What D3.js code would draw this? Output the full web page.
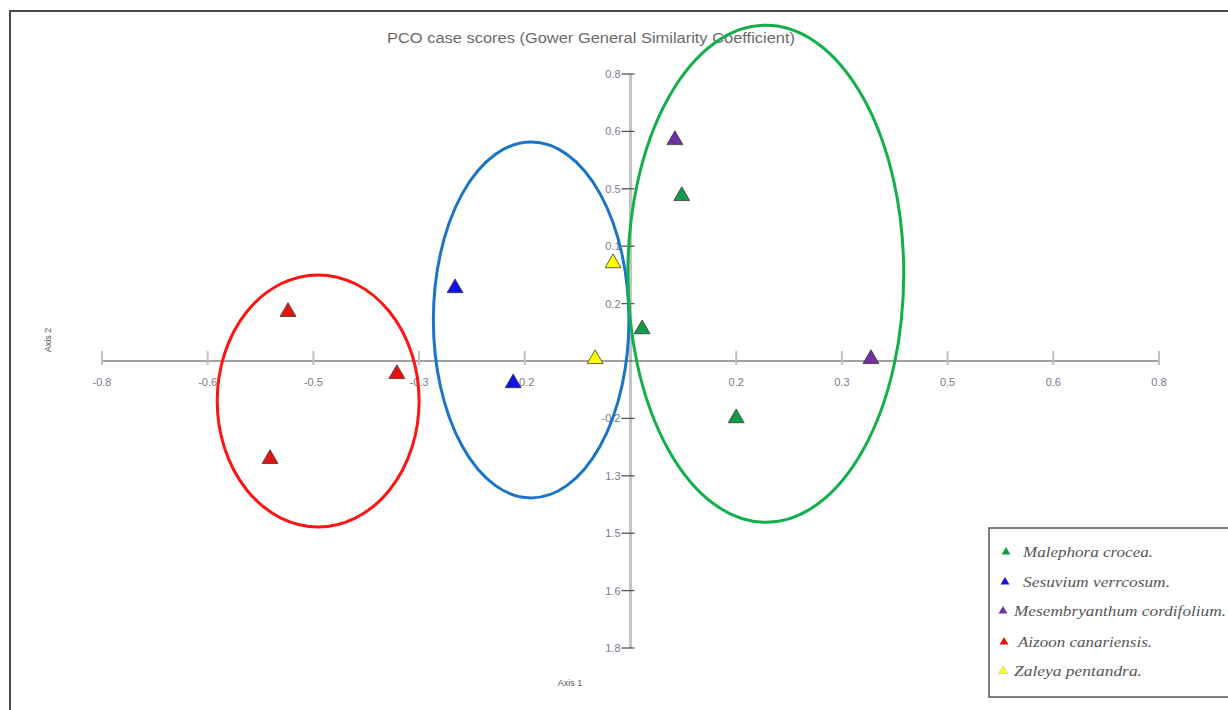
<!DOCTYPE html>
<html>
<head>
<meta charset="utf-8">
<script src="https://cdn.jsdelivr.net/npm/d3@7"></script>
<style>
  html, body { margin: 0; padding: 0; background: #fff; }
  svg { display: block; }
</style>
</head>
<body>
<div id="viz"></div>
<script>
const WIDTH = 1228;
const HEIGHT = 710;

// tick positions (plot units) and the labels printed beside them
const tickValues = [-1, -0.8, -0.6, -0.4, -0.2, 0, 0.2, 0.4, 0.6, 0.8, 1];
const xTickLabels = ["-0.8", "-0.6", "-0.5", "-0.3", "-0.2", "", "0.2", "0.3", "0.5", "0.6", "0.8"];
const yTickLabels = ["1.8", "1.6", "1.5", "1.3", "-0.2", "", "0.2", "0.1", "0.5", "0.6", "0.8"];

const species = [
  "Malephora crocea.",
  "Sesuvium verrcosum.",
  "Mesembryanthum cordifolium.",
  "Aizoon canariensis.",
  "Zaleya pentandra."
];
const speciesColors = ["#139a48", "#1010e8", "#7030a0", "#e81010", "#ffff00"];

// case scores
const scoreSpecies = [3, 3, 3, 1, 1, 4, 4, 0, 0, 0, 2, 2];
const scoreAxis1 = [-0.648, -0.442, -0.682, -0.332, -0.222, -0.033, -0.067, 0.097, 0.022, 0.200, 0.084, 0.455];
const scoreAxis2 = [0.171, -0.045, -0.341, 0.254, -0.077, 0.341, 0.007, 0.575, 0.111, -0.199, 0.770, 0.007];

// group ellipses
const groupColors = ["#ff1414", "#1a74c8", "#12b04a"];
const groupCx = [-0.591, -0.188, 0.256];
const groupCy = [-0.139, 0.143, 0.304];
const groupRx = [0.191, 0.185, 0.261];
const groupRy = [0.439, 0.620, 0.866];

const svg = d3.select("#viz").append("svg")
  .attr("width", WIDTH)
  .attr("height", HEIGHT);

// frame
svg.append("path")
  .attr("d", `M10,${HEIGHT} V11 H${WIDTH}`)
  .attr("fill", "none")
  .attr("stroke", "#4a4a4a")
  .attr("stroke-width", 2);

const x = d3.scaleLinear().domain([-1, 1]).range([102, 1159]);
const y = d3.scaleLinear().domain([-1, 1]).range([648, 74]);

svg.append("text")
  .attr("x", 591)
  .attr("y", 43)
  .attr("text-anchor", "middle")
  .attr("font-family", "Liberation Sans, Arial, sans-serif")
  .attr("font-size", 14)
  .attr("fill", "#6a6a6a")
  .attr("textLength", 408)
  .attr("lengthAdjust", "spacingAndGlyphs")
  .text("PCO case scores (Gower General Similarity Coefficient)");

// y axis
svg.append("line")
  .attr("x1", x(0)).attr("x2", x(0))
  .attr("y1", y(1)).attr("y2", y(-1))
  .attr("stroke", "#c4c4c4")
  .attr("stroke-width", 3);

tickValues.forEach((v, i) => {
  if (!yTickLabels[i]) return;
  svg.append("line")
    .attr("x1", x(0) - 9).attr("x2", x(0) + 4)
    .attr("y1", y(v)).attr("y2", y(v))
    .attr("stroke", "#555")
    .attr("stroke-width", 1.3);
  svg.append("text")
    .attr("x", x(0) - 10)
    .attr("y", y(v) + 4)
    .attr("text-anchor", "end")
    .attr("font-family", "Liberation Sans, Arial, sans-serif")
    .attr("font-size", 11)
    .attr("fill", "#7a7a8a")
    .text(yTickLabels[i]);
});

// x axis
svg.append("line")
  .attr("x1", x(-1)).attr("x2", x(1))
  .attr("y1", y(0)).attr("y2", y(0))
  .attr("stroke", "#444")
  .attr("stroke-width", 1.2);

tickValues.forEach((v, i) => {
  if (!xTickLabels[i]) return;
  svg.append("line")
    .attr("x1", x(v)).attr("x2", x(v))
    .attr("y1", y(0) - 10).attr("y2", y(0) + 4)
    .attr("stroke", "#c0c0c0")
    .attr("stroke-width", 2);
  svg.append("text")
    .attr("x", x(v))
    .attr("y", y(0) + 25)
    .attr("text-anchor", "middle")
    .attr("font-family", "Liberation Sans, Arial, sans-serif")
    .attr("font-size", 11)
    .attr("fill", "#7a7a8a")
    .text(xTickLabels[i]);
});

svg.append("text")
  .attr("transform", `translate(51,340) rotate(-90)`)
  .attr("text-anchor", "middle")
  .attr("font-family", "Liberation Sans, Arial, sans-serif")
  .attr("font-size", 9)
  .attr("fill", "#555")
  .text("Axis 2");

svg.append("text")
  .attr("x", 570)
  .attr("y", 686)
  .attr("text-anchor", "middle")
  .attr("font-family", "Liberation Sans, Arial, sans-serif")
  .attr("font-size", 9)
  .attr("fill", "#555")
  .text("Axis 1");

// ellipses
svg.append("g").selectAll("ellipse")
  .data(groupColors)
  .join("ellipse")
  .attr("cx", (d, i) => x(groupCx[i]))
  .attr("cy", (d, i) => y(groupCy[i]))
  .attr("rx", (d, i) => x(groupRx[i]) - x(0))
  .attr("ry", (d, i) => y(0) - y(groupRy[i]))
  .attr("fill", "none")
  .attr("stroke", d => d)
  .attr("stroke-width", 3);

// points
const triangle = d3.symbol().type(d3.symbolTriangle).size(110);
svg.append("g").selectAll("path")
  .data(scoreSpecies)
  .join("path")
  .attr("transform", (d, i) => `translate(${x(scoreAxis1[i])},${y(scoreAxis2[i])})`)
  .attr("d", triangle)
  .attr("fill", d => speciesColors[d])
  .attr("stroke", "#3a3a3a")
  .attr("stroke-width", 0.8);

// legend
const legend = svg.append("g");
legend.append("rect")
  .attr("x", 989).attr("y", 528)
  .attr("width", 260).attr("height", 169)
  .attr("fill", "#fff")
  .attr("stroke", "#555")
  .attr("stroke-width", 1.5);

const legendRowY = [553, 583, 612, 643, 672];
const legendMarkX = [1006, 1005, 1003, 1004, 1003];
const legendTextX = [1023, 1023, 1014, 1018, 1014];
const legendTextW = [130, 147, 212, 134, 128];
const smallTriangle = d3.symbol().type(d3.symbolTriangle).size(34);

species.forEach((name, i) => {
  legend.append("path")
    .attr("transform", `translate(${legendMarkX[i]},${legendRowY[i] - 1})`)
    .attr("d", smallTriangle)
    .attr("fill", speciesColors[i])
    .attr("stroke", i === 4 ? "#aaa" : "none")
    .attr("stroke-width", 0.5);
  legend.append("text")
    .attr("x", legendTextX[i])
    .attr("y", legendRowY[i] + 4)
    .attr("font-family", "Liberation Serif, Times New Roman, serif")
    .attr("font-style", "italic")
    .attr("font-size", 15)
    .attr("fill", "#555")
    .attr("textLength", legendTextW[i])
    .attr("lengthAdjust", "spacingAndGlyphs")
    .text(name);
});
</script>
</body>
</html>
